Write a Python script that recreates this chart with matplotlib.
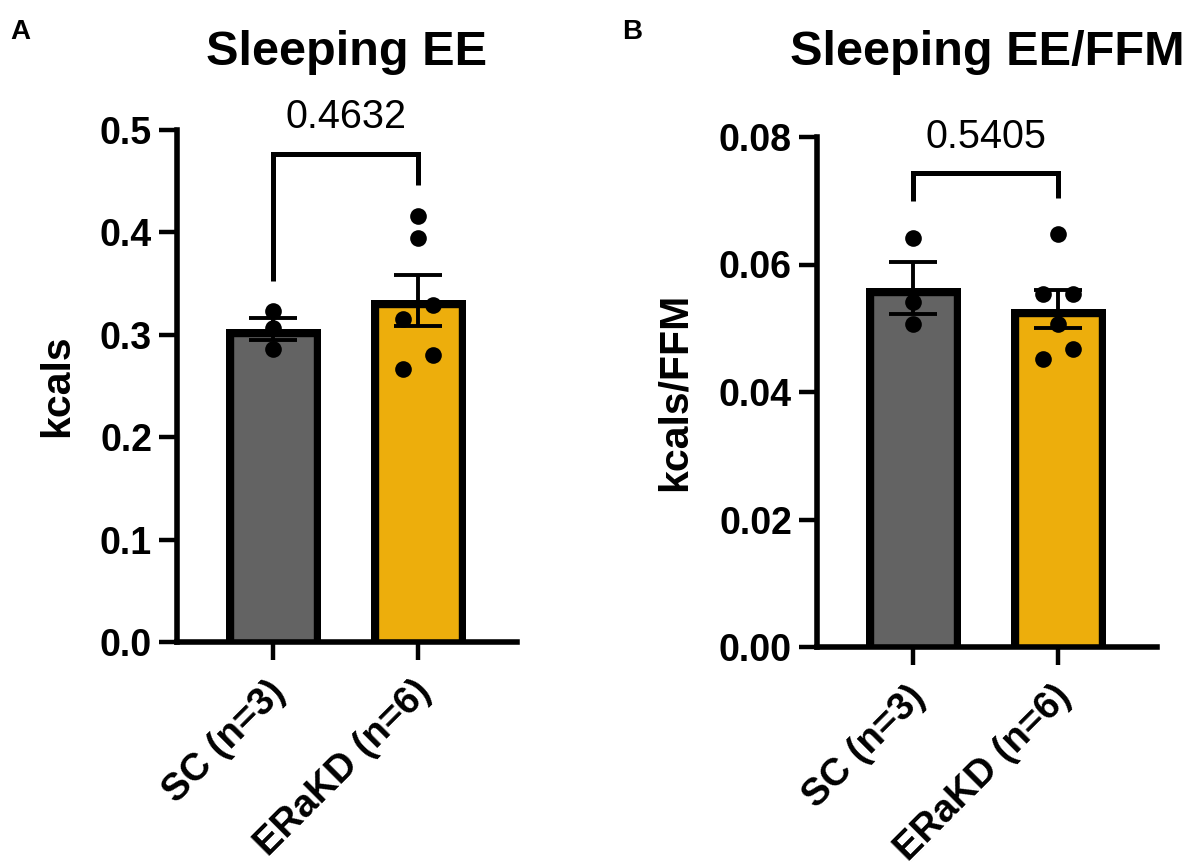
import numpy as np
import matplotlib
matplotlib.use("Agg")
import matplotlib.pyplot as plt
from matplotlib.ticker import FormatStrFormatter, MultipleLocator
from matplotlib.transforms import Bbox, TransformedBbox, ScaledTranslation

# ---- data -------------------------------------------------------------
groups = ["SC (n=3)", "ERaKD (n=6)"]

ee_sc = [0.3236, 0.3067, 0.2863]
ee_erakd = [0.4160, 0.3950, 0.3295, 0.3155, 0.2800, 0.2662]
p_ee = "0.4632"

ffm_sc = [0.0641, 0.0541, 0.0507]
ffm_erakd = [0.0648, 0.0554, 0.0553, 0.0507, 0.0468, 0.0451]
p_ffm = "0.5405"

# horizontal spread of the individual points (column scatter layout)
spread_sc = [0.0, 0.0, 0.0]
spread_ee_erakd = [0.0, 0.0, 0.104, -0.104, 0.104, -0.104]
spread_ffm_erakd = [0.0, -0.104, 0.104, 0.0, 0.104, -0.104]

bar_colors = ["#636363", "#EDAE0C"]

# ---- figure -----------------------------------------------------------
W, H = 1190, 867
plt.rcParams["font.family"] = ["Liberation Sans", "DejaVu Sans"]
fig = plt.figure(figsize=(W / 100, H / 100), dpi=100)


def px_axes(left, right, top, bottom):
    return fig.add_axes([left / W, 1 - bottom / H, (right - left) / W, (bottom - top) / H])


SPINE_LW = 4.0
BORDER_PX = 7.7


def panel(ax, sc, er, off_sc, off_er, ymax, step, fmt, title, ylabel,
          pval, bracket_y, leg_sc, leg_er, ylabel_x):
    x = np.arange(2)
    sets = [np.asarray(sc), np.asarray(er)]
    means = [s.mean() for s in sets]
    sems = [s.std(ddof=1) / np.sqrt(len(s)) for s in sets]

    ax.set_xlim(-0.663, 1.682)
    ax.set_ylim(0, ymax)

    # bars with the outline drawn on the inside of the bar
    pad = ymax * 0.05
    bars = ax.bar(x, [m + pad for m in means], bottom=-pad, width=0.655,
                  color=bar_colors, edgecolor="black",
                  linewidth=2 * BORDER_PX * 72 / 100, zorder=2)
    for b, m in zip(bars, means):
        x0 = b.get_x()
        x1 = x0 + b.get_width()
        b.set_clip_box(TransformedBbox(Bbox([[x0, 0], [x1, m]]), ax.transData))

    ax.errorbar(x, means, yerr=sems, fmt="none", ecolor="black",
                elinewidth=2.8, capsize=17.5, capthick=2.8, zorder=3)

    ax.scatter(np.zeros(len(sc)) + np.asarray(off_sc), sc, s=12 ** 2,
               color="black", linewidths=0, zorder=4, clip_on=False)
    ax.scatter(np.ones(len(er)) + np.asarray(off_er), er, s=12 ** 2,
               color="black", linewidths=0, zorder=4, clip_on=False)

    # significance bracket
    ax.plot([0, 0, 1, 1], [leg_sc, bracket_y, bracket_y, leg_er],
            color="black", lw=3.6, clip_on=False, solid_joinstyle="miter",
            solid_capstyle="butt", zorder=5)
    ax.annotate(pval, xy=(0.5, bracket_y), xytext=(0, 18.5),
                textcoords="offset points", ha="center", va="baseline",
                fontsize=28.5, annotation_clip=False)

    for side in ("top", "right"):
        ax.spines[side].set_visible(False)
    for side in ("left", "bottom"):
        ax.spines[side].set_linewidth(SPINE_LW)
        ax.spines[side].set_capstyle("projecting")

    ax.yaxis.set_major_locator(MultipleLocator(step))
    ax.yaxis.set_major_formatter(FormatStrFormatter(fmt))
    ax.tick_params(axis="both", direction="out", length=13, width=3.2,
                   labelsize=27, pad=5)
    ax.set_xticks(x)
    ax.set_xticklabels(groups, rotation=45, ha="right", va="center",
                       rotation_mode="anchor", fontweight="bold",
                       fontsize=27.5)
    ax.tick_params(axis="x", pad=19)
    nudge = ScaledTranslation(5 / 72, 0, fig.dpi_scale_trans)
    for lab in ax.get_xticklabels():
        lab.set_transform(lab.get_transform() + nudge)
    for lab in ax.get_yticklabels():
        lab.set_fontweight("bold")

    ax.set_ylabel(ylabel, fontsize=29.5, fontweight="bold")
    ax.yaxis.set_label_coords(ylabel_x, 0.5)

    # title centred over the axes
    bb = ax.get_position()
    fig.text((bb.x0 + bb.x1) / 2, 1 - 65 / H, title, ha="center",
             va="baseline", fontsize=35, fontweight="bold")


axA = px_axes(177, 517, 130, 642)
panel(axA, ee_sc, ee_erakd, spread_sc, spread_ee_erakd, 0.5, 0.1, "%.1f",
      "Sleeping EE", "kcals", p_ee, 0.4767, 0.353, 0.4465, -0.297)

axB = px_axes(817, 1157, 137, 647)
panel(axB, ffm_sc, ffm_erakd, spread_sc, spread_ffm_erakd, 0.08, 0.02, "%.2f",
      "Sleeping EE/FFM", "kcals/FFM", p_ffm, 0.0743, 0.0700, 0.0705, -0.363)

fig.text(10 / W, 1 - 39 / H, "A", fontsize=20, fontweight="bold", va="baseline")
fig.text(622 / W, 1 - 39 / H, "B", fontsize=20, fontweight="bold", va="baseline")

fig.savefig("out.png", dpi=100)
